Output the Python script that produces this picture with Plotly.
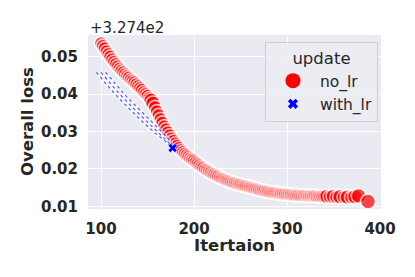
import plotly.graph_objects as go

# ---------------- data ----------------
OFFSET = 327.4
OFFSET_LABEL = "+3.274e2"

# no_lr : iteration vs overall loss (minus offset)
no_lr_iter = list(range(100, 341, 2)) + [343, 346, 350, 353, 357, 361, 365, 369, 373, 377, 387]
no_lr_loss = [
    0.0536, 0.0529, 0.0522, 0.0514, 0.0507, 0.0500, 0.0493, 0.0486, 0.0480, 0.0474,
    0.0468, 0.0463, 0.0458, 0.0453, 0.0448, 0.0444, 0.0439, 0.0435, 0.0431, 0.0426,
    0.0421, 0.0416, 0.0411, 0.0405, 0.0400, 0.0395, 0.0389, 0.0383, 0.0375, 0.0365,
    0.0354, 0.0344, 0.0333, 0.0324, 0.0314, 0.0306, 0.0298, 0.0290, 0.0282, 0.0275,
    0.0268, 0.0262, 0.0256, 0.0250, 0.0245, 0.0240, 0.0236, 0.0232, 0.0228, 0.0225,
    0.0222, 0.0218, 0.0214, 0.0210, 0.0206, 0.0203, 0.0199, 0.0196, 0.0193, 0.0190,
    0.0187, 0.0185, 0.0182, 0.0180, 0.0177, 0.0175, 0.0173, 0.0171, 0.0169, 0.0167,
    0.0165, 0.0163, 0.0162, 0.0160, 0.0159, 0.0158, 0.0156, 0.0155, 0.0154, 0.0152,
    0.0151, 0.0150, 0.0148, 0.0147, 0.0146, 0.0144, 0.0143, 0.0142, 0.0141, 0.0140,
    0.0139, 0.0138, 0.0137, 0.0137, 0.0136, 0.0135, 0.0134, 0.0134, 0.0133, 0.0133,
    0.0132, 0.0132, 0.0131, 0.0131, 0.0130, 0.0130, 0.0130, 0.0129, 0.0129, 0.0129,
    0.0129, 0.0128, 0.0128, 0.0128, 0.0128, 0.0128, 0.0127, 0.0127, 0.0127, 0.0127,
    0.0127,
    0.0127, 0.0126, 0.0127, 0.0125, 0.0126, 0.0125, 0.0125, 0.0124, 0.0126, 0.0128, 0.0113,
]

# with_lr : three nearby runs of the schedule (small markers)
with_lr_iter_a = [95, 100, 105, 110, 115, 120, 125, 130, 135, 140, 145, 150, 156, 161, 167, 173, 178]
with_lr_iter_b = [100, 105, 110, 115, 120, 125, 130, 135, 140, 145, 150, 155, 160, 165, 170, 175, 178]
with_lr_iter_c = [105, 110, 115, 120, 125, 130, 135, 140, 145, 150, 155, 160, 164, 169, 173, 176, 178]
with_lr_loss = [0.0458, 0.0443, 0.0428, 0.0414, 0.0400, 0.0387, 0.0374, 0.0361, 0.0349,
                0.0337, 0.0325, 0.0313, 0.0301, 0.0290, 0.0279, 0.0265, 0.0256]
with_lr_last = (177, 0.0256)

x_ticks = [100, 200, 300, 400]
y_ticks = [0.01, 0.02, 0.03, 0.04, 0.05]
y_ticklabels = ["0.01", "0.02", "0.03", "0.04", "0.05"]

# ---------------- figure ----------------
FONT = "DejaVu Sans"
TXT = "#262626"
RED = "#ff0000"
BLUE = "#0000ff"

big = {154, 156, 343, 350, 357, 365, 373, 377, 387}
sizes = [15 if x in big else 13.5 for x in no_lr_iter]

fig = go.Figure()
fig.add_trace(go.Scatter(
    x=no_lr_iter, y=no_lr_loss, mode="markers", showlegend=False,
    marker=dict(symbol="circle", size=sizes, color=RED,
                line=dict(color="white", width=1.7)),
))
for xs in (with_lr_iter_a, with_lr_iter_b, with_lr_iter_c):
    fig.add_trace(go.Scatter(
        x=xs, y=with_lr_loss, mode="lines", showlegend=False,
        line=dict(color="rgba(255,255,255,0.55)", width=3.5),
    ))
for xs in (with_lr_iter_a, with_lr_iter_b, with_lr_iter_c):
    fig.add_trace(go.Scatter(
        x=xs, y=with_lr_loss, mode="lines", showlegend=False,
        line=dict(color="rgba(0,0,255,0.65)", width=1.2, dash="dot"),
    ))
fig.add_trace(go.Scatter(
    x=[with_lr_last[0]], y=[with_lr_last[1]], mode="markers", showlegend=False,
    marker=dict(symbol="x", size=8, color=BLUE, line=dict(color="white", width=0.5)),
))
# legend entries
fig.add_trace(go.Scatter(x=[None], y=[None], mode="markers", name="no_lr",
                         marker=dict(symbol="circle", size=15, color=RED)))
fig.add_trace(go.Scatter(x=[None], y=[None], mode="markers", name="with_lr",
                         marker=dict(symbol="x", size=9, color=BLUE)))

axis_common = dict(showgrid=True, gridcolor="white", gridwidth=1, zeroline=False,
                   showline=False, ticks="outside", ticklen=6,
                   tickcolor="rgba(0,0,0,0)",
                   tickfont=dict(family=FONT, size=15, color=TXT, weight="bold"))

# the page body has an 8px margin, so the figure is drawn 8px smaller
fig.update_layout(
    width=407, height=269,
    margin=dict(l=80, r=34, t=27, b=68, autoexpand=False),
    paper_bgcolor="white", plot_bgcolor="#EAEAF2",
    font=dict(family=FONT, color=TXT),
    xaxis=dict(range=[86, 401], tickvals=x_ticks, **axis_common),
    yaxis=dict(range=[0.0093, 0.0558], tickvals=y_ticks, ticktext=y_ticklabels,
               **axis_common),
    legend=dict(
        x=0.604, y=0.962, xanchor="left", yanchor="top",
        bgcolor="rgba(236,236,243,0.85)", bordercolor="rgba(204,204,204,0.9)",
        borderwidth=1,
        font=dict(family=FONT, size=15.5, color=TXT),
        title=dict(text="update", side="top center",
                   font=dict(family=FONT, size=16.5, color=TXT)),
        itemsizing="trace", itemwidth=44,
    ),
    annotations=[
        dict(text=OFFSET_LABEL, xref="paper", yref="paper", x=0, y=1.04,
             xanchor="left", yanchor="middle", showarrow=False,
             font=dict(family=FONT, size=15, color=TXT)),
        dict(text="Itertaion", xref="paper", yref="paper", x=0.5, y=-0.207,
             xanchor="center", yanchor="middle", showarrow=False,
             font=dict(family=FONT, size=16.5, color=TXT, weight="bold")),
        dict(text="Overall loss", xref="paper", yref="paper", x=-0.208, y=0.5,
             xanchor="center", yanchor="middle", showarrow=False, textangle=-90,
             font=dict(family=FONT, size=16.5, color=TXT, weight="bold")),
    ],
)

fig.write_html("out.html")
